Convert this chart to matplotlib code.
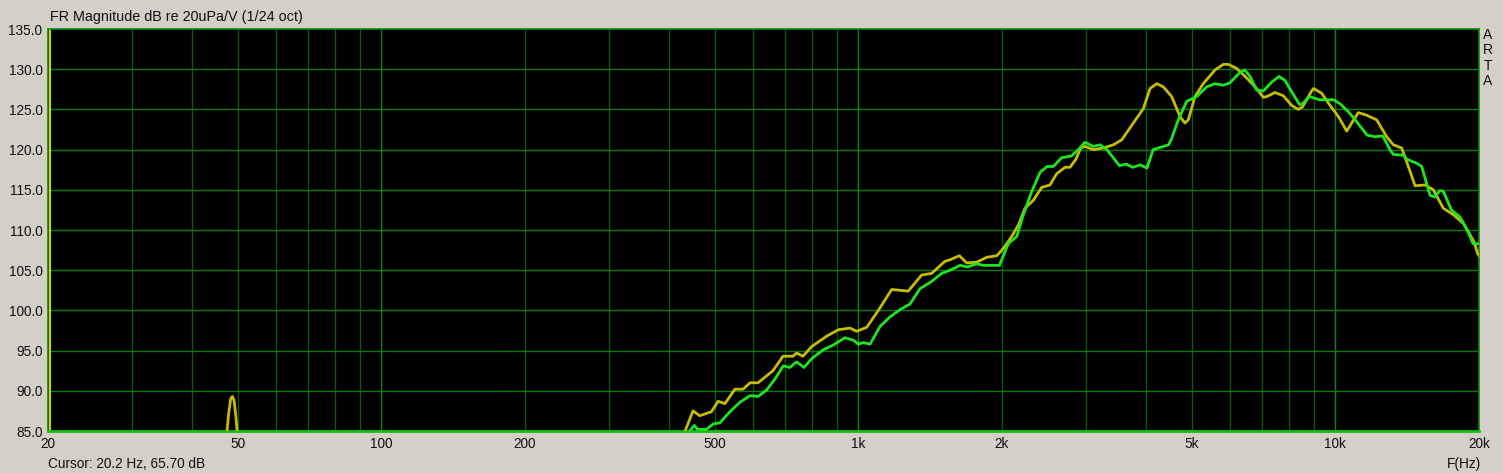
import numpy as np
import matplotlib.pyplot as plt

yel_f = [47.3, 47.8, 48.3, 48.7, 49.1, 49.5, 50.0]
yel_db = [84.0, 87.0, 89.0, 89.3, 88.8, 87.0, 84.0]

yel2_f = [430, 450, 465, 492, 508, 525, 551, 573, 593, 616, 662, 695, 729, 742, 765,
          798, 858, 908, 960, 992, 1041, 1101, 1174, 1272, 1357, 1424, 1518, 1556, 1628,
          1687, 1770, 1858, 1950, 2013, 2096, 2164, 2234, 2327, 2423, 2521, 2604, 2712,
          2777, 2858, 2924, 2985, 3108, 3261, 3424, 3563, 3680, 3770, 3957, 4087, 4221,
          4358, 4537, 4724, 4836, 4916, 5077, 5285, 5592, 5822, 5962, 6209, 6518, 6838,
          7062, 7180, 7471, 7775, 8095, 8359, 8530, 8917, 9000, 9361, 9744, 10148, 10562,
          10818, 11166, 11606, 12204, 12808, 13226, 13770, 14222, 14688, 15413, 16046,
          16839, 17676, 18548, 19073, 19535, 19860, 20000]
yel2_db = [84.5, 87.5, 86.9, 87.4, 88.7, 88.4, 90.2, 90.2, 91.0, 91.0, 92.5, 94.3, 94.3,
           94.7, 94.3, 95.5, 96.8, 97.6, 97.8, 97.4, 97.9, 100.0, 102.6, 102.4, 104.4,
           104.6, 106.1, 106.3, 106.8, 105.9, 106.0, 106.6, 106.8, 107.7, 109.2, 110.6,
           112.7, 113.7, 115.3, 115.6, 117.0, 117.8, 117.8, 118.8, 120.2, 120.4, 120.0,
           120.2, 120.6, 121.2, 122.4, 123.3, 125.1, 127.6, 128.2, 127.8, 126.6, 124.1,
           123.3, 123.7, 126.6, 128.2, 129.9, 130.6, 130.6, 130.1, 128.9, 127.6, 126.5,
           126.6, 127.1, 126.7, 125.5, 125.0, 125.3, 127.3, 127.6, 127.0, 125.5, 124.1,
           122.3, 123.3, 124.6, 124.3, 123.7, 121.6, 120.6, 120.2, 117.9, 115.5, 115.6,
           115.0, 112.7, 111.9, 110.8, 109.6, 108.5, 107.1, 106.8]

grn_f = [440, 453, 460, 480, 497, 512, 538, 565, 593, 616, 642, 669, 696, 718, 742, 769,
         798, 844, 886, 937, 976, 1000, 1024, 1058, 1110, 1165, 1223, 1283, 1346, 1424,
         1494, 1556, 1634, 1694, 1770, 1829, 1975, 2062, 2148, 2217, 2309, 2405, 2486,
         2563, 2669, 2797, 2891, 2985, 3108, 3210, 3317, 3527, 3640, 3757, 3900, 4027,
         4150, 4358, 4470, 4537, 4685, 4877, 5118, 5373, 5592, 5822, 6006, 6310, 6460,
         6623, 6838, 7062, 7353, 7620, 7840, 8095, 8410, 8530, 8818, 9257, 9900, 10230,
         10650, 11070, 11650, 12100, 12570, 13010, 13226, 13893, 14110, 14806, 15170,
         15790, 16170, 16550, 16839, 17500, 18260, 18810, 19440, 19860, 20000]
grn_db = [84.8, 85.7, 85.2, 85.2, 85.9, 86.0, 87.4, 88.6, 89.4, 89.3, 90.1, 91.5, 93.1,
          92.9, 93.6, 92.9, 94.0, 95.1, 95.7, 96.6, 96.3, 95.8, 96.0, 95.8, 98.0, 99.2,
          100.1, 100.8, 102.7, 103.6, 104.6, 105.0, 105.6, 105.4, 105.8, 105.6, 105.6,
          108.3, 109.2, 111.9, 114.8, 117.2, 117.9, 117.9, 119.0, 119.2, 120.0, 120.9,
          120.4, 120.6, 120.0, 118.0, 118.2, 117.8, 118.1, 117.7, 120.0, 120.4, 120.6,
          121.4, 123.7, 126.0, 126.6, 127.8, 128.2, 128.0, 128.3, 129.6, 129.9, 129.1,
          127.4, 127.3, 128.4, 129.1, 128.6, 127.2, 125.6, 125.7, 126.6, 126.2, 126.2,
          125.7, 124.7, 123.5, 121.8, 121.6, 121.7, 120.0, 119.4, 119.3, 118.8, 118.3,
          117.9, 114.3, 114.1, 114.9, 114.8, 112.5, 111.6, 110.2, 108.3, 108.3, 108.3]

cursor_f = 20.2
cursor_db = 65.70

xticks = [20, 50, 100, 200, 500, 1000, 2000, 5000, 10000, 20000]
xlabels = ['20', '50', '100', '200', '500', '1k', '2k', '5k', '10k', '20k']
yticks = np.arange(85, 136, 5)

bg = '#d4d0c8'
plt.rcParams['font.family'] = ['Liberation Sans', 'DejaVu Sans']

fig = plt.figure(figsize=(15.03, 4.73), dpi=100, facecolor=bg)
W, H = 1503, 473
ax = fig.add_axes([48 / W, 1 - 431 / H, (1479 - 48) / W, (431 - 29) / H])
ax.set_facecolor('black')
ax.set_xscale('log')
ax.set_xlim(20, 20000)
ax.set_ylim(85, 135)

# grid: every 1..9 multiple, decades a bit brighter
for dec in [10, 100, 1000, 10000]:
    for m in range(1, 10):
        f = dec * m
        if 20 < f < 20000:
            c = '#0c8c0c' if m == 1 else '#0a5a0a'
            ax.axvline(f, color=c, lw=1.0, zorder=1)
for y in yticks[1:-1]:
    ax.axhline(y, color='#0c7c0c', lw=1.0, zorder=1)

ax.axvline(cursor_f, color='#d8d000', lw=1.5, zorder=2)

ax.plot(yel_f, yel_db, color='#c8bc00', lw=2, zorder=3)
ax.plot(yel2_f, yel2_db, color='#c8bc00', lw=2, zorder=3)
ax.plot(grn_f, grn_db, color='#1ee61e', lw=2, zorder=4)

for s in ax.spines.values():
    s.set_color('#0c8c0c')
    s.set_linewidth(1.2)
ax.spines['bottom'].set_color('#10c010')
ax.spines['bottom'].set_linewidth(2)

ax.set_xticks(xticks)
ax.set_xticklabels(xlabels)
ax.xaxis.set_minor_locator(plt.NullLocator())
ax.set_yticks(yticks)
ax.set_yticklabels(['%.1f' % v for v in yticks])
ax.tick_params(length=0, labelsize=9.8, colors='#101010', pad=4)

fig.text(50 / W, 1 - 17 / H, 'FR Magnitude dB re 20uPa/V (1/24 oct)', fontsize=10.4,
         va='center', ha='left', color='#101010')
fig.text(48 / W, 1 - 464 / H, 'Cursor: %.1f Hz, %.2f dB' % (cursor_f, cursor_db),
         fontsize=9.8, va='center', ha='left', color='#101010')
fig.text(1464 / W, 1 - 464 / H, 'F(Hz)', fontsize=9.8, va='center', ha='center',
         color='#101010')
fig.text(1488 / W, 1 - 58 / H, 'A\nR\nT\nA', fontsize=10, va='center', ha='center',
         color='#101010', linespacing=1.1)

fig.savefig('out.png', dpi=100, facecolor=bg)
